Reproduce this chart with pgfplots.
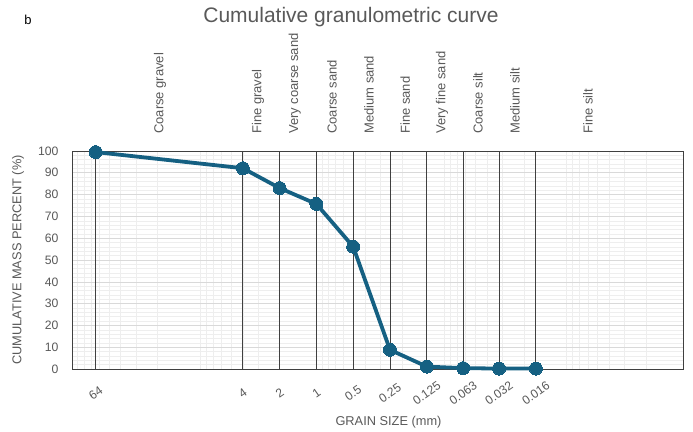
\documentclass[border=0pt]{standalone}
\usepackage{pgfplots}
\pgfplotsset{compat=1.18}
\usepackage{fontspec}
\setmainfont{Liberation Sans}
\definecolor{lineblue}{HTML}{156082}
\definecolor{txtgray}{HTML}{595959}
\definecolor{gridmaj}{HTML}{D9D9D9}
\definecolor{gridmin}{HTML}{EEEEEE}
\definecolor{dec}{HTML}{C8C8C8}
\begin{document}
\begin{tikzpicture}
\begin{axis}[
  scale only axis,
  width=611bp, height=218bp,
  xmode=log, x dir=reverse,
  xmin=0.001, xmax=100,
  ymin=0, ymax=100,
  axis line style={black!75},
  xtick={64,4,2,1,0.5,0.25,0.125,0.063,0.032,0.016},
  xticklabels={64,4,2,1,0.5,0.25,0.125,0.063,0.032,0.016},
  minor xtick={20,30,40,50,60,70,80,90,2,3,4,5,6,7,8,9,0.2,0.3,0.4,0.5,0.6,0.7,0.8,0.9,0.02,0.03,0.04,0.05,0.06,0.07,0.08,0.09,0.002,0.003,0.004,0.005,0.006,0.007,0.008,0.009},
  extra x ticks={10,1,0.1,0.01},
  extra x tick labels={},
  extra x tick style={major x grid style={dec, line width=0.6bp}},
  ytick={0,10,...,100},
  minor y tick num=4,
  grid=both,
  major grid style={gridmaj, line width=0.6bp},
  minor grid style={gridmin, line width=0.5bp},
  major x grid style={draw=none},
  major tick length=0pt, minor tick length=0pt,
  /pgf/number format/assume math mode=true,
  tick label style={font=\fontsize{12.2bp}{14bp}\selectfont, text=txtgray},
  xticklabel style={rotate=35, anchor=center},
  xticklabel shift=24bp,
  yticklabel style={anchor=east},
  yticklabel shift=10bp,
  xlabel={GRAIN SIZE (mm)},
  ylabel={CUMULATIVE MASS PERCENT (\%)},
  label style={font=\fontsize{12.8bp}{14bp}\selectfont, text=txtgray},
  xlabel style={at={(axis description cs:0.518,-0.243)}, anchor=center},
  ylabel style={at={(axis description cs:-0.0884,0.5)}, anchor=center},
  clip=false,
]
% size class boundaries (vertical lines)
\addplot[ycomb, black!75, line width=0.8bp, no marks, forget plot]
coordinates {
(64,100) (4,100) (2,100) (1,100) (0.5,100) (0.25,100) (0.125,100) (0.063,100) (0.032,100) (0.016,100)
};
\addplot[lineblue, line width=3.8bp, mark=*, mark size=6.5bp, mark options={fill=lineblue, draw=lineblue, line width=0pt}]
coordinates {
(64,99.5) (4,92.1) (2,83.0) (1,75.7) (0.5,56.1) (0.25,8.8) (0.125,1.1) (0.063,0.4) (0.032,0.2) (0.016,0.2)
};
\begin{scope}[every node/.style={rotate=90, anchor=west, text=txtgray, font=\fontsize{13bp}{15bp}\selectfont, inner sep=0pt}]
\node at ([yshift=17bp]axis cs:19,100) {Coarse gravel};
\node at ([yshift=17bp]axis cs:3.0,100) {Fine gravel};
\node at ([yshift=17bp]axis cs:1.5,100) {Very coarse sand};
\node at ([yshift=17bp]axis cs:0.745,100) {Coarse sand};
\node at ([yshift=17bp]axis cs:0.371,100) {Medium sand};
\node at ([yshift=17bp]axis cs:0.188,100) {Fine sand};
\node at ([yshift=17bp]axis cs:0.0938,100) {Very fine sand};
\node at ([yshift=17bp]axis cs:0.0476,100) {Coarse silt};
\node at ([yshift=17bp]axis cs:0.0237,100) {Medium silt};
\node at ([yshift=17bp]axis cs:0.00599,100) {Fine silt};
\end{scope}
\end{axis}
\node[text=txtgray, font=\fontsize{21bp}{24bp}\selectfont, anchor=center] at ([xshift=279bp, yshift=134bp]current axis.north west) {Cumulative granulometric curve};
\node[text=black, font=\fontsize{13bp}{15bp}\selectfont, anchor=center] at ([xshift=-44bp, yshift=131bp]current axis.north west) {b};
\path (current axis.south west) ++(-72bp,-63bp) rectangle ++(693bp,432bp);
\end{tikzpicture}
\end{document}
